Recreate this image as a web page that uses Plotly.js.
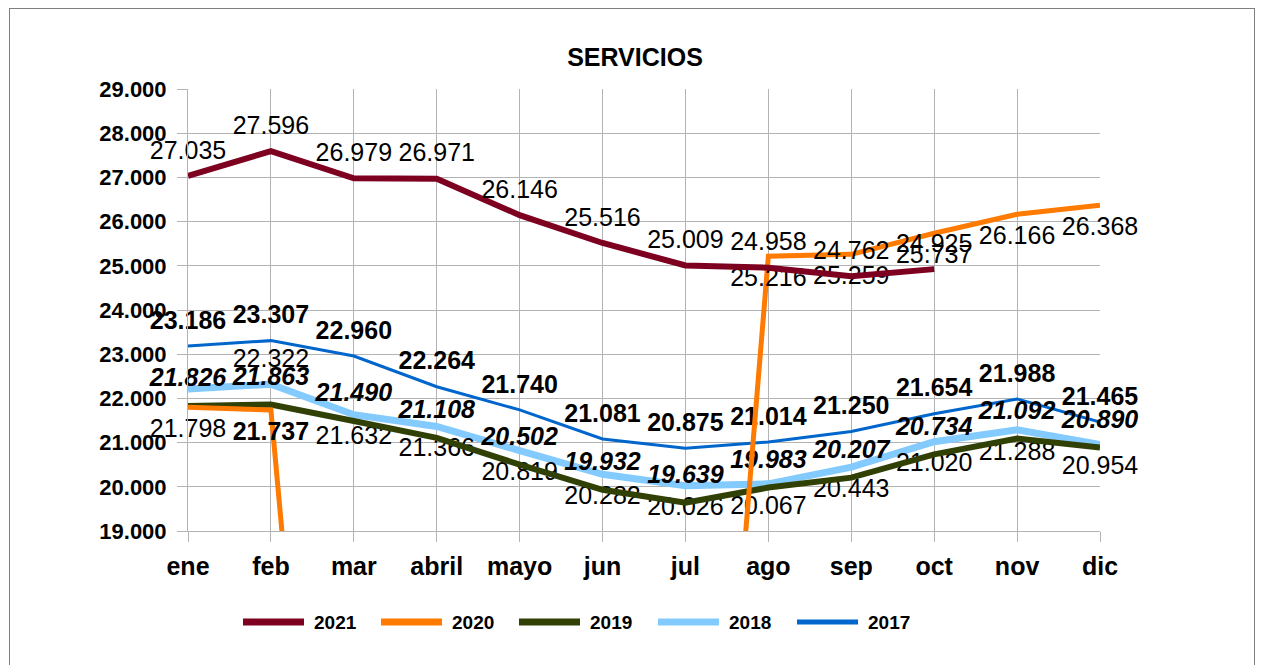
<!DOCTYPE html>
<html>
<head>
<meta charset="utf-8">
<script src="https://cdn.plot.ly/plotly-3.0.1.min.js"></script>
<style>
  html, body { margin: 0; padding: 0; background: #fff; overflow: hidden; }
  #frame { position: absolute; left: 9px; top: 8px; width: 1246px; height: 700px; border: 1px solid #7f7f7f; box-sizing: border-box; pointer-events: none; }
  #chart { position: absolute; left: 0; top: 0; width: 1263px; height: 665px; }
</style>
</head>
<body>
<div id="chart"></div>
<div id="frame"></div>
<script>
// ---- data ----
const months = ["ene", "feb", "mar", "abril", "mayo", "jun", "jul", "ago", "sep", "oct", "nov", "dic"];
const s2021 = [27035, 27596, 26979, 26971, 26146, 25516, 25009, 24958, 24762, 24925, null, null];
const s2020 = [21798, 21737, 1100, 900, 1000, 1400, 2400, 25216, 25259, 25737, 26166, 26368];
const s2019 = [21826, 21863, 21490, 21108, 20502, 19932, 19639, 19983, 20207, 20734, 21092, 20890];
const s2018 = [22215, 22322, 21632, 21366, 20819, 20282, 20026, 20067, 20443, 21020, 21288, 20954];
const s2017 = [23186, 23307, 22960, 22264, 21740, 21081, 20875, 21014, 21250, 21654, 21988, 21465];
const seriesNames = ["2021", "2020", "2019", "2018", "2017"];
const yTicks = [19000, 20000, 21000, 22000, 23000, 24000, 25000, 26000, 27000, 28000, 29000];

// ---- helpers ----
function fmt(v) { return (v / 1000).toFixed(3); }
const FONT = "Liberation Sans, Arial, sans-serif";

// text labels (style / visibility per point)
const t2021 = s2021.map(v => v == null ? "" : fmt(v));
const t2020 = s2020.map((v, i) => (v < 19000) ? "" : (i === 1 ? "<b>" + fmt(v) + "</b>" : fmt(v)));
const t2019 = s2019.map(v => "<b><i>" + fmt(v) + "</i></b>");
const t2018 = s2018.map((v, i) => i === 0 ? "" : fmt(v));
const t2017 = s2017.map(v => "<b>" + fmt(v) + "</b>");

const pos2018 = s2018.map((v, i) => i === 1 ? "top center" : "bottom center");

const colors = {
  "2021": "#7e0021",
  "2020": "#ff7a00",
  "2019": "#314004",
  "2018": "#83caff",
  "2017": "#0066cc"
};
const widths = { "2021": 6, "2020": 5, "2019": 6, "2018": 7, "2017": 3 };

function tr(name, y, text, pos, msize) {
  return {
    type: "scatter", mode: "lines+markers+text", name: name,
    x: months, y: y, text: text, textposition: pos,
    textfont: { family: FONT, size: 25, color: "#000" },
    line: { color: colors[name], width: widths[name] },
    marker: { size: msize, opacity: 0, color: colors[name] },
    cliponaxis: false, connectgaps: false, hoverinfo: "skip"
  };
}

const data = [
  tr("2017", s2017, t2017, "top center", 16),
  tr("2018", s2018, t2018, pos2018, 16),
  tr("2019", s2019, t2019, "top center", 20),
  tr("2020", s2020, t2020, "bottom center", 16),
  tr("2021", s2021, t2021, "top center", 16)
];

// ---- manual legend (pixel -> paper) ----
const L = 188, R = 1100, T = 89, B = 531;
const px = x => (x - L) / (R - L);
const py = y => (B - y) / (B - T);
const legStart = [243, 381, 519, 658, 797];
const shapes = [];
const annotations = [];
seriesNames.forEach((n, i) => {
  shapes.push({
    type: "line", xref: "paper", yref: "paper",
    x0: px(legStart[i]), x1: px(legStart[i] + 61), y0: py(622), y1: py(622),
    line: { color: colors[n], width: n === "2017" ? 5 : 7 }
  });
  annotations.push({
    xref: "paper", yref: "paper", x: px(legStart[i] + 69), y: py(622),
    xanchor: "left", yanchor: "middle", showarrow: false,
    text: "<b>" + n + "</b>", font: { family: FONT, size: 19, color: "#000" }
  });
});

const layout = {
  width: 1263, height: 665,
  margin: { l: L, r: 1263 - R, t: T, b: 665 - B, pad: 0 },
  paper_bgcolor: "#fff", plot_bgcolor: "#fff",
  separators: ",.",
  showlegend: false,
  title: {
    text: "<b>SERVICIOS</b>",
    font: { family: FONT, size: 25, color: "#000" },
    xref: "container", x: 635 / 1263, xanchor: "center",
    yref: "container", y: 1 - 57 / 665, yanchor: "middle"
  },
  xaxis: {
    type: "category", range: [0, 11], fixedrange: true,
    showgrid: true, gridcolor: "#b3b3b3", gridwidth: 1,
    showline: true, linecolor: "#b3b3b3", linewidth: 1,
    ticks: "outside", ticklen: 10, tickcolor: "#b3b3b3",
    tickfont: { family: FONT, size: 25, color: "#000", weight: "bold" },
    ticklabelstandoff: 3,
    zeroline: false
  },
  yaxis: {
    range: [19000, 29000], fixedrange: true,
    tickvals: yTicks, tickformat: ",.0f",
    showgrid: true, gridcolor: "#b3b3b3", gridwidth: 1,
    showline: true, linecolor: "#b3b3b3", linewidth: 1,
    ticks: "outside", ticklen: 10, tickcolor: "#b3b3b3",
    tickfont: { family: FONT, size: 22, color: "#000", weight: "bold" },
    ticklabelstandoff: 6,
    zeroline: false
  },
  shapes: shapes,
  annotations: annotations
};

Plotly.newPlot("chart", data, layout, { staticPlot: true, displayModeBar: false });
</script>
</body>
</html>
